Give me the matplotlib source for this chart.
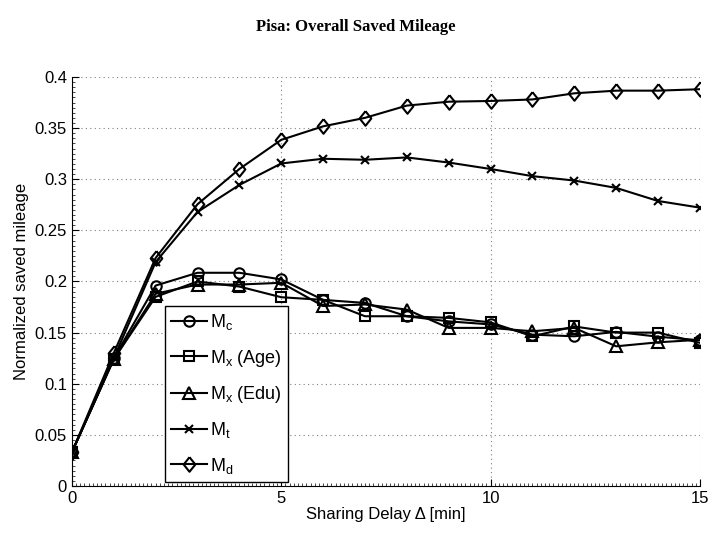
import matplotlib
matplotlib.use('Agg')
from matplotlib import pyplot as plt
import matplotlib.ticker as ticker

delay = list(range(16))
m_c = [0.033, 0.125, 0.196, 0.2085, 0.2085, 0.202, 0.182, 0.179, 0.166, 0.161, 0.158,
       0.148, 0.1464, 0.1507, 0.146, 0.1425]
m_age = [0.033, 0.124, 0.185, 0.200, 0.195, 0.1846, 0.182, 0.166, 0.166, 0.1644, 0.160,
         0.1464, 0.156, 0.150, 0.150, 0.140]
m_edu = [0.033, 0.124, 0.188, 0.197, 0.197, 0.1987, 0.176, 0.1775, 0.1725, 0.1546, 0.1546,
         0.1513, 0.1546, 0.1366, 0.1405, 0.143]
m_t = [0.033, 0.125, 0.219, 0.268, 0.2944, 0.3154, 0.320, 0.319, 0.3213, 0.3163, 0.310,
       0.303, 0.2987, 0.2915, 0.2787, 0.2722]
m_d = [0.033, 0.130, 0.223, 0.2755, 0.310, 0.3385, 0.3517, 0.360, 0.372, 0.3758, 0.3765,
       0.378, 0.384, 0.3866, 0.3866, 0.388]

plt.rcParams['font.family'] = ['Liberation Sans', 'DejaVu Sans']

fig = plt.figure(figsize=(7.12, 5.34), dpi=100)
ax = fig.add_axes([0.101, 0.0899, 0.882, 0.766])

# matlab-ish diamond, a bit wider than 'd'
diamond = [(0, 1), (0.8, 0), (0, -1), (-0.8, 0), (0, 1)]

kw = dict(color='k', linewidth=1.5, markerfacecolor='none', markeredgecolor='k',
          markeredgewidth=1.5)
ax.plot(delay, m_c, marker='o', markersize=7.5, label='M$_\\mathregular{c}$', **kw)
ax.plot(delay, m_age, marker='s', markersize=6.5, label='M$_\\mathregular{x}$ (Age)', **kw)
ax.plot(delay, m_edu, marker='^', markersize=8, label='M$_\\mathregular{x}$ (Edu)', **kw)
ax.plot(delay, m_t, marker='x', markersize=6, label='M$_\\mathregular{t}$', **kw)
ax.plot(delay, m_d, marker=diamond, markersize=10.5, label='M$_\\mathregular{d}$', **kw)

ax.set_xlim(0, 15)
ax.set_ylim(0, 0.4)
ax.xaxis.set_major_locator(ticker.MultipleLocator(5))
ax.xaxis.set_minor_locator(ticker.MultipleLocator(0.1))
ax.yaxis.set_major_locator(ticker.MultipleLocator(0.05))
ax.yaxis.set_minor_locator(ticker.MultipleLocator(0.005))
ax.yaxis.set_major_formatter(ticker.FuncFormatter(lambda v, p: ('%g' % round(v, 3))))
ax.tick_params(which='major', direction='in', length=5, labelsize=12, width=0.8)
ax.tick_params(which='minor', direction='in', length=2.5, width=0.5)
ax.grid(which='major', color='gray', linestyle=(0, (1, 3)), linewidth=0.8)
ax.spines['top'].set_visible(False)
ax.spines['right'].set_visible(False)

ax.set_xlabel('Sharing Delay Δ [min]', fontsize=12, labelpad=1)
ax.set_ylabel('Normalized saved mileage', fontsize=12)
fig.suptitle('Pisa: Overall Saved Mileage', fontsize=12, fontweight='bold',
             family='Liberation Serif', y=0.965)

leg = ax.legend(loc='lower left', bbox_to_anchor=(0.148, 0.01), fontsize=13,
                handlelength=2.0, fancybox=False, framealpha=1, edgecolor='k',
                borderpad=0.35, labelspacing=0.85, handletextpad=0.15, borderaxespad=0)
leg.get_frame().set_linewidth(1.0)

fig.savefig('out.png', dpi=100)
